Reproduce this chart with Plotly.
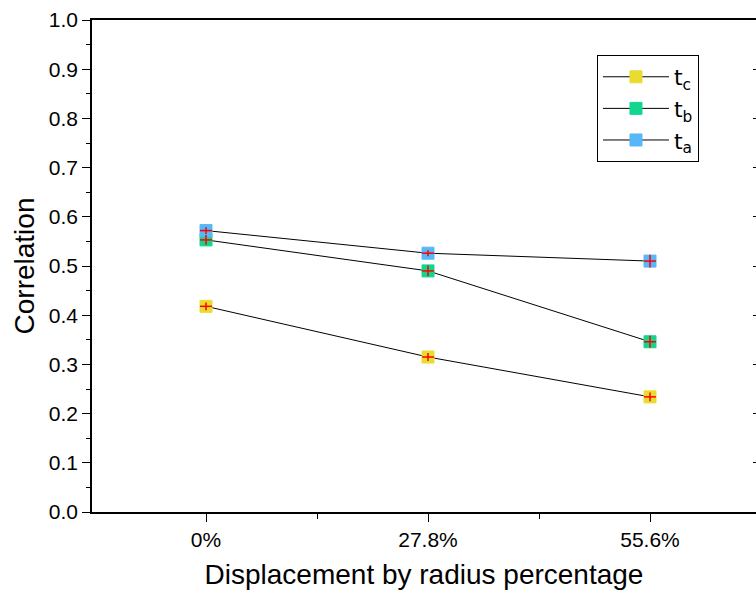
import plotly.graph_objects as go

categories = ["0%", "27.8%", "55.6%"]
series_names = ["t<sub>c</sub>", "t<sub>b</sub>", "t<sub>a</sub>"]
tc_values = [0.418, 0.315, 0.234]
tb_values = [0.553, 0.490, 0.346]
ta_values = [0.572, 0.526, 0.510]
tc_err = [0.008, 0.008, 0.009]
tb_err = [0.010, 0.011, 0.012]
ta_err = [0.007, 0.006, 0.013]
colors = ["#E8DC30", "#12D68E", "#56B8F8"]
y_ticks = [round(i * 0.1, 1) for i in range(11)]

x_idx = list(range(len(categories)))
fig = go.Figure()

for name, vals, col in zip(series_names, [tc_values, tb_values, ta_values], colors):
    fig.add_trace(go.Scatter(
        x=x_idx, y=vals, name=name, mode="lines+markers",
        line=dict(color="black", width=1),
        marker=dict(symbol="square", size=12, color=col,
                    line=dict(width=1, color=col)),
    ))

for vals, errs in zip([tc_values, tb_values, ta_values], [tc_err, tb_err, ta_err]):
    fig.add_trace(go.Scatter(
        x=x_idx, y=vals, mode="markers", showlegend=False, hoverinfo="skip",
        marker=dict(size=1, opacity=0),
        error_y=dict(type="data", array=errs, visible=True, color="red", thickness=1.5, width=0),
        error_x=dict(type="constant", value=0.027, visible=True, color="red", thickness=1.5, width=0),
    ))

# invisible trace for right-side inward ticks
fig.add_trace(go.Scatter(x=[0], y=[0], yaxis="y2", mode="markers",
                         marker=dict(opacity=0), showlegend=False, hoverinfo="skip"))

tick_font = dict(family="Liberation Sans, Arial", size=21, color="black")
title_font = dict(family="Liberation Sans, Arial", size=28, color="black")

fig.update_layout(
    width=756, height=591,
    margin=dict(l=92, r=0, t=20, b=79),
    plot_bgcolor="white", paper_bgcolor="white",
    showlegend=True,
    legend=dict(
        x=0.7605, y=0.9289, xanchor="left", yanchor="top",
        bordercolor="black", borderwidth=1, bgcolor="white",
        font=dict(family="DejaVu Sans", size=22, color="black"),
        itemwidth=66, tracegroupgap=0,
    ),
    xaxis=dict(
        range=[-0.5135, 2.4775], tickvals=x_idx, ticktext=categories,
        showline=True, linecolor="black", linewidth=1.5, mirror=True,
        ticks="outside", ticklen=8, tickwidth=1.2, tickcolor="black",
        minor=dict(tickvals=[0.5, 1.5], ticks="outside", ticklen=5, tickwidth=1.2, tickcolor="black"),
        showgrid=False, zeroline=False, tickfont=tick_font,
        title=dict(text="Displacement by radius percentage", font=title_font, standoff=14),
    ),
    yaxis=dict(
        range=[0, 1], tickvals=y_ticks, tickformat=".1f",
        showline=True, linecolor="black", linewidth=1.5,
        ticks="outside", ticklen=8, tickwidth=1.2, tickcolor="black",
        minor=dict(dtick=0.05, ticks="outside", ticklen=4, tickwidth=1.2, tickcolor="black"),
        showgrid=False, zeroline=False, tickfont=tick_font,
        title=dict(text="Correlation", font=title_font, standoff=6),
    ),
    yaxis2=dict(
        range=[0, 1], overlaying="y", side="right", tickvals=y_ticks,
        showticklabels=False, ticks="inside", ticklen=3, tickwidth=1.2, tickcolor="black",
        showline=False, showgrid=False, zeroline=False,
    ),
)

fig.write_html("out.html")
